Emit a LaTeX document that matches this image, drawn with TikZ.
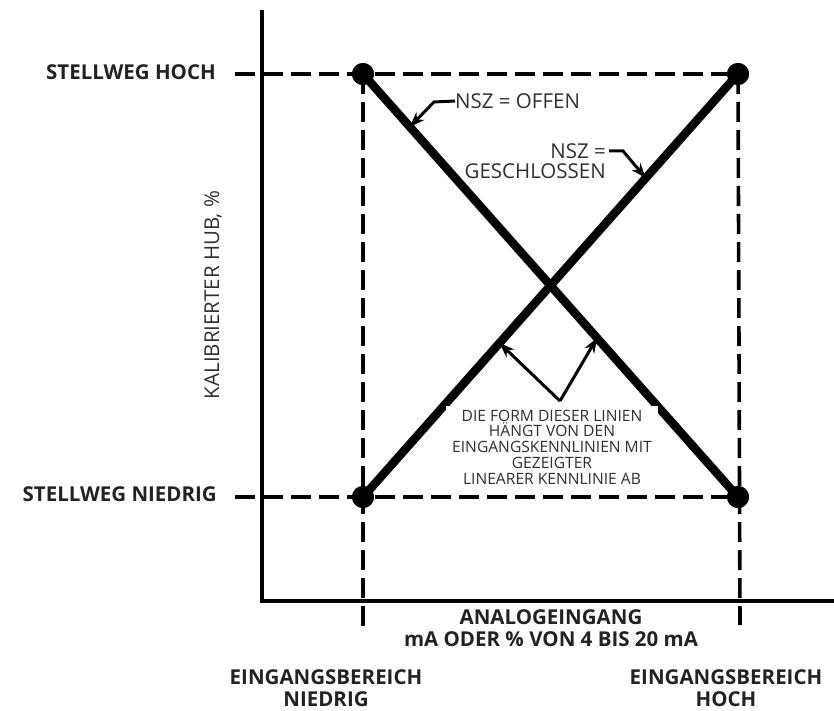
\documentclass[tikz,border=0pt]{standalone}
\usepackage{fontspec}
\setmainfont{Open Sans}
\usetikzlibrary{arrows.meta,calc}
\definecolor{txt}{HTML}{222222}
\definecolor{lt}{HTML}{303030}
\begin{document}
\begin{tikzpicture}[x=1pt,y=-1pt,
  axis/.style={line width=3.6pt},
  guide/.style={line width=3.6pt,dash pattern=on 20pt off 8pt},
  curve/.style={line width=8.5pt},
  dot/.style={circle,fill=black,inner sep=0pt,minimum size=22pt},
  boldlbl/.style={font=\fontsize{20.5}{22}\selectfont\bfseries,text=txt,inner sep=0pt,align=center},
  thinlbl/.style={font=\fontsize{20.5}{22}\selectfont,text=lt,inner sep=0pt},
  leader/.style={line width=3pt,-{Stealth[length=15pt,width=11pt]}}]
\useasboundingbox (0,0) rectangle (834,711);
% axes
\coordinate (ytop) at (262,10);
\coordinate (orig) at (262,601);
\coordinate (xend) at (834,601);
\draw[axis] (ytop) -- (orig) -- (xend);
% corner points
\node[dot] (tl) at (363,74) {};
\node[dot] (tr) at (738,74) {};
\node[dot] (bl) at (363,497) {};
\node[dot] (br) at (738,497) {};
\coordinate (hl) at (235,74);
\coordinate (ll) at (235,497);
\coordinate (lb) at (363,628);
\coordinate (rb) at (740,625);
% guides
\draw[guide] (hl) -- (tr.center);
\draw[guide] (ll) -- (br.center);
\draw[guide] (tl.center) -- (lb);
\draw[guide] (tr.center) -- (rb);
% curves
\draw[curve] (tl.center) -- (br.center);
\draw[curve] (bl.center) -- (tr.center);
\node[dot] at (tl) {};
\node[dot] at (tr) {};
\node[dot] at (bl) {};
\node[dot] at (br) {};
% labels left
\node[boldlbl,anchor=east] (hoch) at (216,72) {STELLWEG HOCH};
\node[boldlbl,anchor=east] (nied) at (217,494) {STELLWEG NIEDRIG};
\node[thinlbl,rotate=90] (hub) at (213,295) {KALIBRIERTER HUB, \%};
% NSZ offen
\node[thinlbl,anchor=west] (offen) at (455,101) {NSZ = OFFEN};
\coordinate (offk) at (434,102);
\draw[leader] (offen.west) -- (offk) -- ($(tl.center)!0.125!(br.center)$);
% NSZ geschlossen
\node[thinlbl,anchor=east] (nsz) at (606,151) {NSZ =};
\node[thinlbl,anchor=east] (gesch) at (606,171) {GESCHLOSSEN};
\coordinate (gk) at (623,151);
\draw[leader] ($(nsz.east)+(3,0)$) -- (gk) -- ($(bl.center)!0.754!(tr.center)$);
% note
\node[fill=white,inner sep=0pt,minimum width=212pt,minimum height=82pt,
      font=\fontsize{15.6}{15.8}\selectfont,text=lt,align=center] (note) at (552,447)
  {DIE FORM DIESER LINIEN\\HÄNGT VON DEN\\EINGANGSKENNLINIEN MIT\\GEZEIGTER\\LINEARER KENNLINIE AB};
\coordinate (apex) at (560,401);
\draw[leader] (apex) -- ($(bl.center)!0.364!(tr.center)$);
\draw[leader] (apex) -- ($(tl.center)!0.624!(br.center)$);
% bottom labels
\node[boldlbl] (ana) at (551,628) {ANALOGEINGANG\\mA ODER \% VON 4 BIS 20 mA};
\node[boldlbl] (ebn) at (326,688) {EINGANGSBEREICH\\NIEDRIG};
\node[boldlbl] (ebh) at (726,688) {EINGANGSBEREICH\\HOCH};
\end{tikzpicture}
\end{document}
